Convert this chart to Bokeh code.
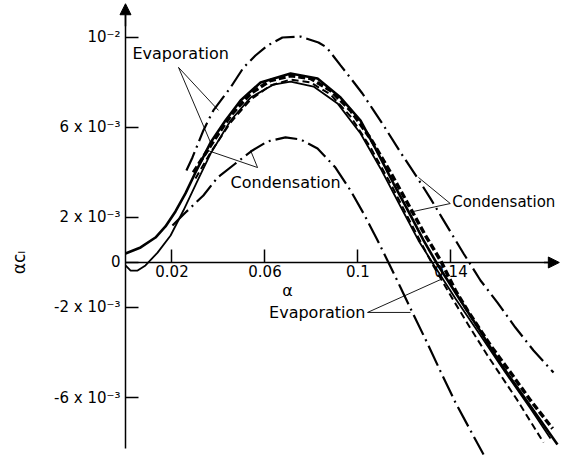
import math
from bokeh.plotting import figure
from bokeh.models import FixedTicker, Range1d, Label, Arrow, NormalHead, ColumnDataSource
from bokeh.embed import file_html
from bokeh.resources import INLINE
from bokeh.core.properties import value

FONT = "DejaVu Sans"

# ---------------- data ----------------
x_ticks = [0.02, 0.06, 0.1, 0.14]
x_tick_labels = ["0.02", "0.06", "0.1", "0.14"]
y_ticks = [0.01, 0.006, 0.002, 0.0, -0.002, -0.006]
y_tick_labels = ["10\u207b\u00b2", "6 x 10\u207b\u00b3", "2 x 10\u207b\u00b3", "0",
                 "-2 x 10\u207b\u00b3", "-6 x 10\u207b\u00b3"]

# upper dash-dot curve
a_x = [0.0262, 0.0288, 0.0335, 0.0378, 0.0452, 0.0508, 0.0559, 0.0611, 0.0675, 0.0753,
       0.0830, 0.0865, 0.0925, 0.0976, 0.1019, 0.1067, 0.1110, 0.1183, 0.1252, 0.1312,
       0.1363, 0.1454, 0.1527, 0.1600, 0.1677, 0.1755, 0.1841]
a_y = [0.00409, 0.00467, 0.00587, 0.00676, 0.00778, 0.00867, 0.00920, 0.00964, 0.01000, 0.01004,
       0.00978, 0.00956, 0.00876, 0.00809, 0.00751, 0.00676, 0.00609, 0.00489, 0.00382, 0.00284,
       0.00196, 0.00040, -0.00080, -0.00178, -0.00289, -0.00391, -0.00489]

# lower dash-dot curve
b_x = [0.0202, 0.0258, 0.0335, 0.0396, 0.0473, 0.0546, 0.0611, 0.0688, 0.0753, 0.0826,
       0.0903, 0.0968, 0.1024, 0.1080, 0.1131, 0.1183, 0.1234, 0.1299, 0.1355, 0.1419,
       0.1484, 0.1540]
b_y = [0.00164, 0.00222, 0.00298, 0.00378, 0.00440, 0.00498, 0.00538, 0.00556, 0.00547, 0.00507,
       0.00422, 0.00320, 0.00218, 0.00107, 0.0, -0.00111, -0.00222, -0.00360, -0.00484, -0.00622,
       -0.00747, -0.00853]

# thick solid curve
s1_x = [0.0, 0.0065, 0.0129, 0.0172, 0.0215, 0.0258, 0.0301, 0.0366, 0.0430, 0.0495,
        0.0581, 0.0710, 0.0826, 0.0925, 0.1011, 0.1075, 0.1153, 0.1226, 0.1282, 0.1342,
        0.1441, 0.1527, 0.1613, 0.1755, 0.1858]
s1_y = [0.00040, 0.00067, 0.00111, 0.00160, 0.00227, 0.00307, 0.00400, 0.00533, 0.00631, 0.00720,
        0.00800, 0.00840, 0.00818, 0.00733, 0.00631, 0.00507, 0.00351, 0.00209, 0.00098, -0.00009,
        -0.00169, -0.00307, -0.00449, -0.00658, -0.00809]

# thin solid curve (dips below zero at the start)
s2_x = [0.0, 0.0022, 0.0052, 0.0086, 0.0138, 0.0194, 0.0249, 0.0310, 0.0366, 0.0452,
        0.0538, 0.0637, 0.0710, 0.0809, 0.0912, 0.1011, 0.1097, 0.1183, 0.1260, 0.1325,
        0.1419, 0.1527, 0.1634, 0.1742, 0.1828]
s2_y = [-0.00013, -0.00036, -0.00036, -0.00013, 0.00044, 0.00120, 0.00231, 0.00364, 0.00484, 0.00631,
        0.00733, 0.00791, 0.00804, 0.00782, 0.00707, 0.00573, 0.00418, 0.00249, 0.00098, -0.00009,
        -0.00160, -0.00324, -0.00489, -0.00649, -0.00782]

# thick dashed curve
d1_x = [0.0292, 0.0366, 0.0452, 0.0538, 0.0624, 0.0710, 0.0796, 0.0882, 0.0968, 0.1054,
        0.1140, 0.1226, 0.1290, 0.1355, 0.1419, 0.1471, 0.1570, 0.1656, 0.1742, 0.1837]
d1_y = [0.00400, 0.00520, 0.00653, 0.00751, 0.00809, 0.00830, 0.00818, 0.00764, 0.00676, 0.00551,
        0.00400, 0.00240, 0.00120, 0.00009, -0.00124, -0.00213, -0.00369, -0.00489, -0.00613, -0.00738]

# thin dashed curve
d2_x = [0.0301, 0.0366, 0.0452, 0.0538, 0.0624, 0.0710, 0.0796, 0.0882, 0.0968, 0.1054,
        0.1140, 0.1226, 0.1316, 0.1411, 0.1484, 0.1557, 0.1686, 0.1798]
d2_y = [0.00373, 0.00489, 0.00622, 0.00724, 0.00787, 0.00813, 0.00800, 0.00747, 0.00649, 0.00511,
        0.00351, 0.00178, 0.0, -0.00169, -0.00293, -0.00413, -0.00613, -0.00800]

# annotation texts and their leader lines
ann_text = ["Evaporation", "Condensation", "Evaporation"]
ann_x = [0.0030, 0.0452, 0.1032]
ann_y = [0.00929, 0.00356, -0.00222]
ann_align = ["left", "left", "right"]
right_text = "Condensation"
right_x, right_y = 0.1405, 0.00267

lead_xs = [[0.0228, 0.0400], [0.0228, 0.0366],
           [0.0568, 0.0353], [0.0568, 0.0538],
           [0.1397, 0.1260], [0.1397, 0.1217],
           [0.1041, 0.1355], [0.1041, 0.1226]]
lead_ys = [[0.00867, 0.00676], [0.00867, 0.00533],
           [0.00422, 0.00498], [0.00422, 0.00498],
           [0.00262, 0.00378], [0.00262, 0.00222],
           [-0.00222, -0.00076], [-0.00222, -0.00222]]

# ---------------- figure ----------------
p = figure(width=560, height=458, output_backend="svg", toolbar_location=None,
           x_range=Range1d(-0.05376, 0.18710), y_range=Range1d(-0.008711, 0.011644),
           min_border=0)
p.outline_line_color = None
p.grid.visible = False
p.background_fill_color = "white"

for ax in (p.xaxis[0], p.yaxis[0]):
    ax.fixed_location = 0
    ax.major_tick_in = 13
    ax.major_tick_out = 0
    ax.minor_tick_line_color = None
    ax.axis_line_width = 1.5
    ax.major_tick_line_width = 1.5
    ax.axis_line_color = "black"
    ax.major_tick_line_color = "black"
    ax.major_label_text_font = FONT
    ax.major_label_text_font_size = "15px"
    ax.major_label_text_color = "black"

p.xaxis[0].ticker = FixedTicker(ticks=x_ticks)
p.xaxis[0].major_label_overrides = dict(zip(x_ticks, x_tick_labels))
p.xaxis[0].bounds = (0, 0.184)
p.xaxis[0].major_label_standoff = 3

p.yaxis[0].ticker = FixedTicker(ticks=y_ticks)
p.yaxis[0].major_label_overrides = dict(zip(y_ticks, y_tick_labels))
p.yaxis[0].bounds = (-0.00827, 0.0110)
p.yaxis[0].major_label_standoff = 5

# axis arrow heads
p.add_layout(Arrow(end=NormalHead(size=11, fill_color="black", line_color="black"),
                   x_start=0, y_start=0.0105, x_end=0, y_end=0.01150,
                   line_width=1.5, line_color="black"))
p.add_layout(Arrow(end=NormalHead(size=11, fill_color="black", line_color="black"),
                   x_start=0.18, y_start=0, x_end=0.1866, y_end=0,
                   line_width=1.5, line_color="black"))

# curves
p.line(a_x, a_y, line_color="black", line_width=2.2, line_dash="20 5 2 5")
p.line(b_x, b_y, line_color="black", line_width=2.2, line_dash="22 5 2 5")
p.line(s1_x, s1_y, line_color="black", line_width=2.6)
p.line(s2_x, s2_y, line_color="black", line_width=1.8)
p.line(d1_x, d1_y, line_color="black", line_width=3.5, line_dash="7 3")
p.line(d2_x, d2_y, line_color="black", line_width=2.0, line_dash="7 4")

# annotations
p.multi_line(lead_xs, lead_ys, line_color="black", line_width=0.9)
src = ColumnDataSource(dict(x=ann_x, y=ann_y, text=ann_text, align=ann_align))
p.text(x="x", y="y", text="text", text_align="align", text_baseline="middle",
       text_font=value(FONT), text_font_size="16px", text_color="black", source=src)
p.add_layout(Label(x=right_x, y=right_y, text=right_text, text_font=FONT,
                   text_font_size="15px", text_color="black",
                   text_align="left", text_baseline="middle"))

p.add_layout(Label(x=0.0697, y=-0.00124, text="\u03b1", text_font=FONT,
                   text_font_size="16px", text_color="black",
                   text_align="center", text_baseline="middle"))
p.add_layout(Label(x=-0.046, y=0.0, text="\u03b1c\u2097", text_font=FONT,
                   text_font_size="17px", text_color="black", angle=math.pi / 2,
                   text_align="center", text_baseline="middle"))

open("out.html", "w").write(file_html(p, INLINE))
